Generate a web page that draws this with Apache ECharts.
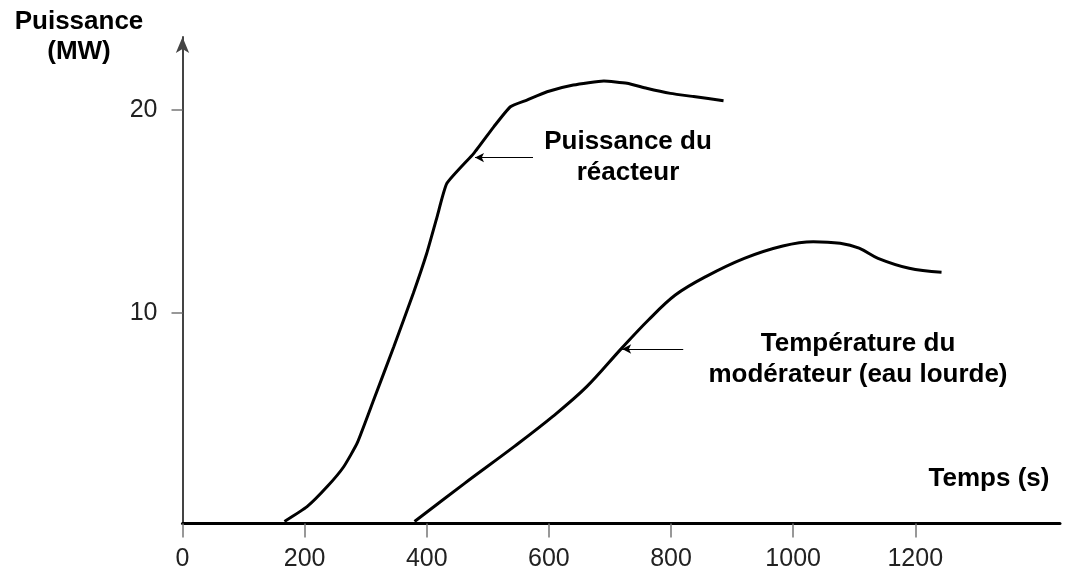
<!DOCTYPE html>
<html>
<head>
<meta charset="utf-8">
<title>Puissance du réacteur</title>
<script src="https://cdn.jsdelivr.net/npm/echarts@6.0.0/dist/echarts.min.js"></script>
<style>
    html, body { margin: 0; padding: 0; background: #fff; }
    #chart { width: 1070px; height: 574px; }
</style>
</head>
<body>
<div id="chart"></div>
<script>
// temps (s) / puissance (MW)
var powerTime = [167, 204, 237, 264, 286, 313, 346, 378, 400, 417, 433, 477, 510, 537, 564, 597, 640, 690, 728, 760, 799, 837, 886];
var powerMW = [-0.3, 0.43, 1.42, 2.4, 3.56, 5.69, 8.32, 10.96, 12.93, 14.74, 16.38, 17.86, 19.18, 20.16, 20.49, 20.9, 21.23, 21.43, 21.32, 21.07, 20.82, 20.66, 20.46];

var tempTime = [380, 462, 543, 606, 662, 719, 763, 807, 857, 920, 983, 1033, 1077, 1108, 1139, 1190, 1243];
var tempValue = [-0.3, 1.58, 3.39, 4.87, 6.35, 8.24, 9.64, 10.87, 11.78, 12.68, 13.29, 13.5, 13.42, 13.18, 12.68, 12.19, 11.99];

var xTicks = [0, 200, 400, 600, 800, 1000, 1200];
var yTicks = [10, 20];

// flèches des légendes : [x début, x fin, y]
var powerArrow = [574, 479, 17.65];
var tempArrow = [820, 720, 8.21];

function zip(a, b) {
    return a.map(function (v, i) { return [v, b[i]]; });
}

function arrowLine(a) {
    return {
        silent: true,
        symbol: ['none', 'arrow'],
        symbolSize: [7, 9],
        label: { show: false },
        lineStyle: { color: '#000', width: 1, type: 'solid' },
        data: [[{ coord: [a[0], a[2]] }, { coord: [a[1], a[2]] }]]
    };
}

var font = '"Liberation Sans", Arial, sans-serif';
var bold = 'bold 26px ' + font;

var chart = echarts.init(document.getElementById('chart'));
var option = {
    backgroundColor: '#fff',
    animation: false,
    grid: {
        left: 182.5,
        right: 10,
        top: 37,
        bottom: 50.5
    },
    xAxis: {
        type: 'value',
        min: 0,
        max: 1437,
        axisLine: {
            onZero: false,
            lineStyle: { color: '#000', width: 3 }
        },
        axisTick: {
            customValues: xTicks,
            length: 14,
            lineStyle: { color: '#777', width: 1.5 }
        },
        axisLabel: {
            customValues: xTicks,
            formatter: function (v) { return String(v); },
            margin: 23,
            fontSize: 25,
            color: '#222',
            fontFamily: font
        },
        splitLine: { show: false }
    },
    yAxis: {
        type: 'value',
        min: -0.4,
        max: 23.6,
        axisLine: {
            show: true,
            symbol: ['none', 'arrow'],
            symbolSize: [10, 16],
            lineStyle: { color: '#444', width: 2 }
        },
        axisTick: {
            show: true,
            customValues: yTicks,
            length: 11,
            lineStyle: { color: '#777', width: 1.5 }
        },
        axisLabel: {
            customValues: yTicks,
            margin: 25,
            fontSize: 25,
            color: '#222',
            fontFamily: font
        },
        splitLine: { show: false }
    },
    series: [
        {
            name: 'Puissance du réacteur',
            type: 'line',
            data: zip(powerTime, powerMW),
            smooth: 0.15,
            showSymbol: false,
            lineStyle: { color: '#000', width: 3 },
            markLine: arrowLine(powerArrow)
        },
        {
            name: 'Température du modérateur',
            type: 'line',
            data: zip(tempTime, tempValue),
            smooth: 0.35,
            showSymbol: false,
            lineStyle: { color: '#000', width: 3 },
            markLine: arrowLine(tempArrow)
        }
    ],
    graphic: [
        {
            type: 'text', x: 79, y: 7,
            style: { text: 'Puissance\n(MW)', textAlign: 'center', fill: '#000', font: bold, lineHeight: 30 }
        },
        {
            type: 'text', x: 628, y: 126,
            style: { text: 'Puissance du\nréacteur', textAlign: 'center', fill: '#000', font: bold, lineHeight: 31 }
        },
        {
            type: 'text', x: 858, y: 328,
            style: { text: 'Température du\nmodérateur (eau lourde)', textAlign: 'center', fill: '#000', font: bold, lineHeight: 31 }
        },
        {
            type: 'text', x: 989, y: 466,
            style: { text: 'Temps (s)', textAlign: 'center', fill: '#000', font: bold }
        }
    ]
};
chart.setOption(option, true);
</script>
</body>
</html>
